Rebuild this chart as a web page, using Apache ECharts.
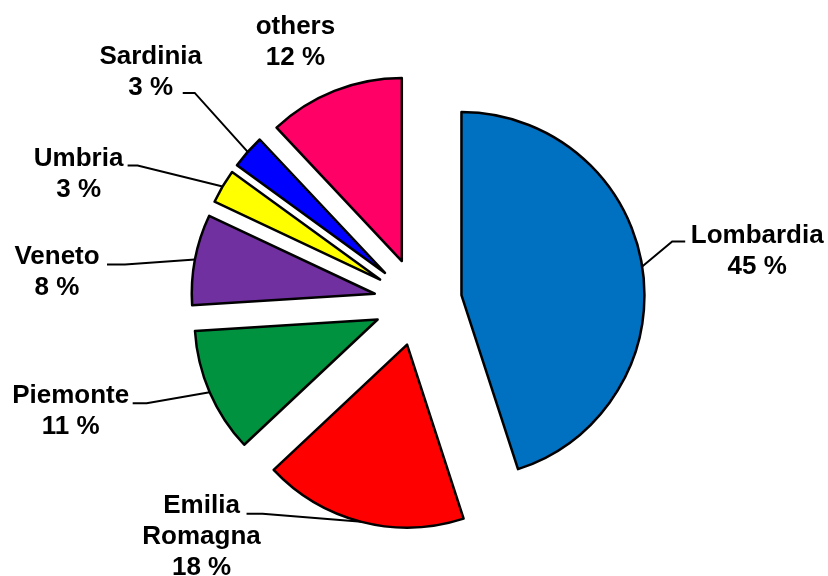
<!DOCTYPE html>
<html>
<head>
<meta charset="utf-8">
<script src="https://cdn.jsdelivr.net/npm/echarts@6/dist/echarts.min.js"></script>
<style>
  html, body { margin: 0; padding: 0; background: #fff; }
  #chart { width: 828px; height: 576px; }
</style>
</head>
<body>
<div id="chart"></div>
<script>
// Regional shares (%)
const categories = ['Lombardia', 'Emilia Romagna', 'Piemonte', 'Veneto', 'Umbria', 'Sardinia', 'others'];
const shares = [45, 18, 11, 8, 3, 3, 12];
const sliceColors = ['#0070C0', '#FF0000', '#00923F', '#7030A0', '#FFFF00', '#0000FF', '#FF0066'];

// Pie geometry
const CX = 418, CY = 302, RADIUS = 183, EXPLODE = 44;

// Label placement relative to the slice's mid-arc point:
// end = leader line end next to the text, bendX = where the short horizontal run starts,
// text = centre of the label block. Leader hidden when end is null.
const labelPlacement = [
  { end: [43, -25], bendX: 30, text: [115, -15] },
  { end: [-115, -8], bendX: -99, text: [-160, 15] },
  { end: [-77, 11], bendX: -63, text: [-139, 19] },
  { end: [-88, 5], bendX: -70, text: [-138, 13] },
  { end: [-95, -21], bendX: -85, text: [-144, -12] },
  { end: [-65, -59], bendX: -53, text: [-97, -80] },
  { end: null, bendX: 0, text: [-39, -49] }
];

const total = shares.reduce((a, b) => a + b, 0);
let cumulative = 0;
const series = shares.map((v, i) => {
  const mid = (cumulative + v / 2) / total * 2 * Math.PI;
  cumulative += v;
  const place = labelPlacement[i];
  return {
    type: 'pie',
    center: [CX + EXPLODE * Math.sin(mid), CY - EXPLODE * Math.cos(mid)],
    radius: RADIUS,
    startAngle: 90,
    clockwise: true,
    avoidLabelOverlap: false,
    silent: true,
    emphasis: { disabled: true },
    animation: false,
    data: shares.map((w, j) => {
      const own = j === i;
      return {
        name: categories[j],
        value: w,
        itemStyle: own
          ? { color: sliceColors[j], borderColor: '#000', borderWidth: 2.5 }
          : { color: 'rgba(0,0,0,0)', borderWidth: 0 },
        label: { show: own },
        labelLine: {
          show: own,
          lineStyle: { color: '#000', width: 2, opacity: place.end ? 1 : 0 }
        }
      };
    }),
    label: {
      position: 'outside',
      formatter: p => p.name.replace(' ', '\n') + '\n' + p.value + ' %',
      fontFamily: 'Liberation Sans, Arial, sans-serif',
      fontWeight: 'bold',
      fontSize: 26,
      lineHeight: 31,
      color: '#000'
    },
    labelLine: { length: 10, length2: 10 },
    labelLayout: params => {
      if (params.dataIndex !== i || !params.labelLinePoints) return {};
      const p0 = params.labelLinePoints[0];
      const out = {
        x: p0[0] + place.text[0],
        y: p0[1] + place.text[1],
        align: 'center',
        verticalAlign: 'middle'
      };
      if (place.end) {
        const ex = p0[0] + place.end[0], ey = p0[1] + place.end[1];
        out.labelLinePoints = [[p0[0], p0[1]], [p0[0] + place.bendX, ey], [ex, ey]];
      } else {
        out.labelLinePoints = [[p0[0], p0[1]], [p0[0], p0[1]], [p0[0], p0[1]]];
      }
      return out;
    }
  };
});

const chart = echarts.init(document.getElementById('chart'), null, { renderer: 'canvas' });
chart.setOption({
  backgroundColor: '#fff',
  animation: false,
  series
});
</script>
</body>
</html>
